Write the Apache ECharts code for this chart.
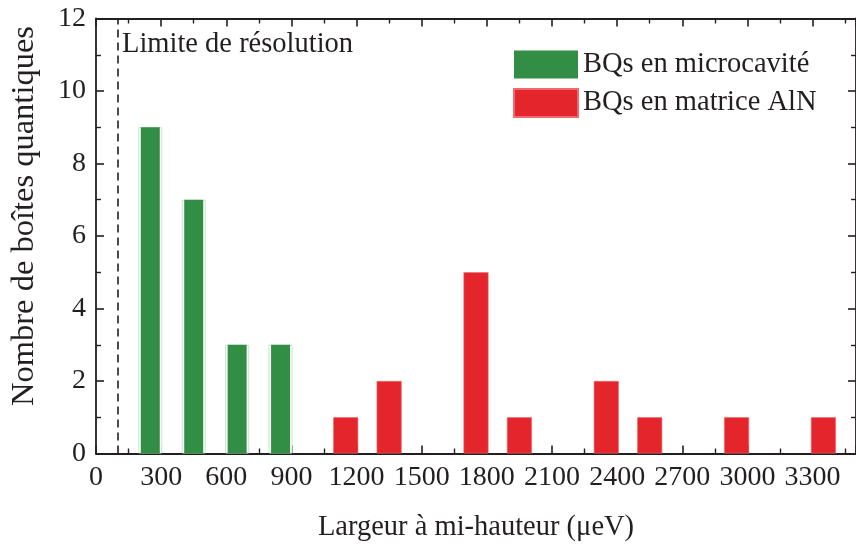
<!DOCTYPE html>
<html>
<head>
<meta charset="utf-8">
<script src="https://cdn.jsdelivr.net/npm/echarts@6/dist/echarts.min.js"></script>
<style>
html,body{margin:0;padding:0;overflow:hidden;background:#fff;}
#chart{width:856px;height:548px;}
</style>
</head>
<body>
<div id="chart"></div>
<script>
// Data
const greenBins = [250, 450, 650, 850];
const greenCounts = [9, 7, 3, 3];
const redBins = [1150, 1350, 1750, 1950, 2350, 2550, 2950, 3350];
const redCounts = [1, 2, 5, 1, 2, 1, 1, 1];
const resolutionLimit = 100;
const seriesNames = ['BQs en microcavité', 'BQs en matrice AlN'];
const xAxisTitle = 'Largeur à mi-hauteur (μeV)';
const yAxisTitle = 'Nombre de boîtes quantiques';
const resolutionLabel = 'Limite de résolution';

const FONT = "'Liberation Serif', 'Times New Roman', serif";
const INK = '#231f20';
const XMIN = 0, XMAX = 3500, XSTEP = 300;
const YMIN = 0, YMAX = 12, YSTEP = 2;

const greenData = greenBins.map((b, i) => [b, greenCounts[i]]);
const redData = redBins.map((b, i) => [b, redCounts[i]]);

const baseX = {
  type: 'value', min: XMIN, max: XMAX, interval: XSTEP,
  axisLine: {show: true, onZero: false, lineStyle: {color: INK, width: 1.8}},
  axisTick: {show: true, inside: true, length: 8, lineStyle: {color: INK, width: 1.6}},
  minorTick: {show: true, splitNumber: 2, length: 5, lineStyle: {color: INK, width: 1.4}},
  splitLine: {show: false}, minorSplitLine: {show: false}
};
const baseY = {
  type: 'value', min: YMIN, max: YMAX, interval: YSTEP,
  axisLine: {show: true, onZero: false, lineStyle: {color: INK, width: 1.8}},
  axisTick: {show: true, inside: true, length: 8, lineStyle: {color: INK, width: 1.6}},
  minorTick: {show: true, splitNumber: 2, length: 5, lineStyle: {color: INK, width: 1.4}},
  splitLine: {show: false}, minorSplitLine: {show: false}
};

const chart = echarts.init(document.getElementById('chart'), null, {renderer: 'canvas'});
chart.setOption({
  backgroundColor: '#fff',
  animation: false,
  grid: {left: 93.5, top: 18.5, right: -4, bottom: 94.5, containLabel: false},
  legend: {
    data: seriesNames,
    orient: 'vertical', left: 508, top: 45,
    itemWidth: 64, itemHeight: 28, itemGap: 9,
    icon: 'rect',
    textStyle: {fontFamily: FONT, fontSize: 28.5, color: INK}
  },
  xAxis: [
    Object.assign({}, baseX, {
      position: 'bottom',
      name: xAxisTitle, nameLocation: 'middle', nameGap: 60,
      nameTextStyle: {fontFamily: FONT, fontSize: 28.5, color: INK},
      axisLabel: {show: true, margin: 10, fontFamily: FONT, fontSize: 28, color: INK,
        showMaxLabel: false,
        formatter: v => (v % XSTEP === 0 && v < XMAX) ? String(v) : ''}
    }),
    Object.assign({}, baseX, {position: 'top', axisLabel: {show: false}}),
    {type: 'value', min: XMIN, max: XMAX, show: false}
  ],
  yAxis: [
    Object.assign({}, baseY, {
      position: 'left',
      name: yAxisTitle, nameLocation: 'middle', nameGap: 55, nameRotate: 90,
      nameTextStyle: {fontFamily: FONT, fontSize: 32.5, color: INK, padding: [0, 0, 0, 40]},
      axisLabel: {show: true, margin: 10, fontFamily: FONT, fontSize: 28, color: INK}
    }),
    Object.assign({}, baseY, {position: 'right', axisLabel: {show: false}})
  ],
  series: [
    {
      name: 'outline', type: 'bar', xAxisIndex: 2, yAxisIndex: 0,
      data: greenData, barWidth: 24, silent: true, z: 1,
      itemStyle: {color: '#ffffff', borderColor: '#c9e5cd', borderWidth: 1}
    },
    {
      name: seriesNames[0], type: 'bar', xAxisIndex: 0, yAxisIndex: 0,
      data: greenData, barWidth: 19, z: 2,
      itemStyle: {color: '#338e45'},
      markLine: {
        silent: true, symbol: ['none', 'none'],
        label: {show: false},
        lineStyle: {color: INK, width: 1.6, type: [8, 5]},
        data: [{xAxis: resolutionLimit}]
      }
    },
    {
      name: seriesNames[1], type: 'bar', xAxisIndex: 1, yAxisIndex: 0,
      data: redData, barWidth: 25, z: 2,
      itemStyle: {color: '#e4262c', borderColor: '#ee6a6e', borderWidth: 0.6}
    }
  ],
  graphic: [{
    type: 'text', left: 122, top: 30,
    style: {text: resolutionLabel, fontFamily: FONT, fontSize: 28.5, fill: INK}
  }]
});
</script>
</body>
</html>
